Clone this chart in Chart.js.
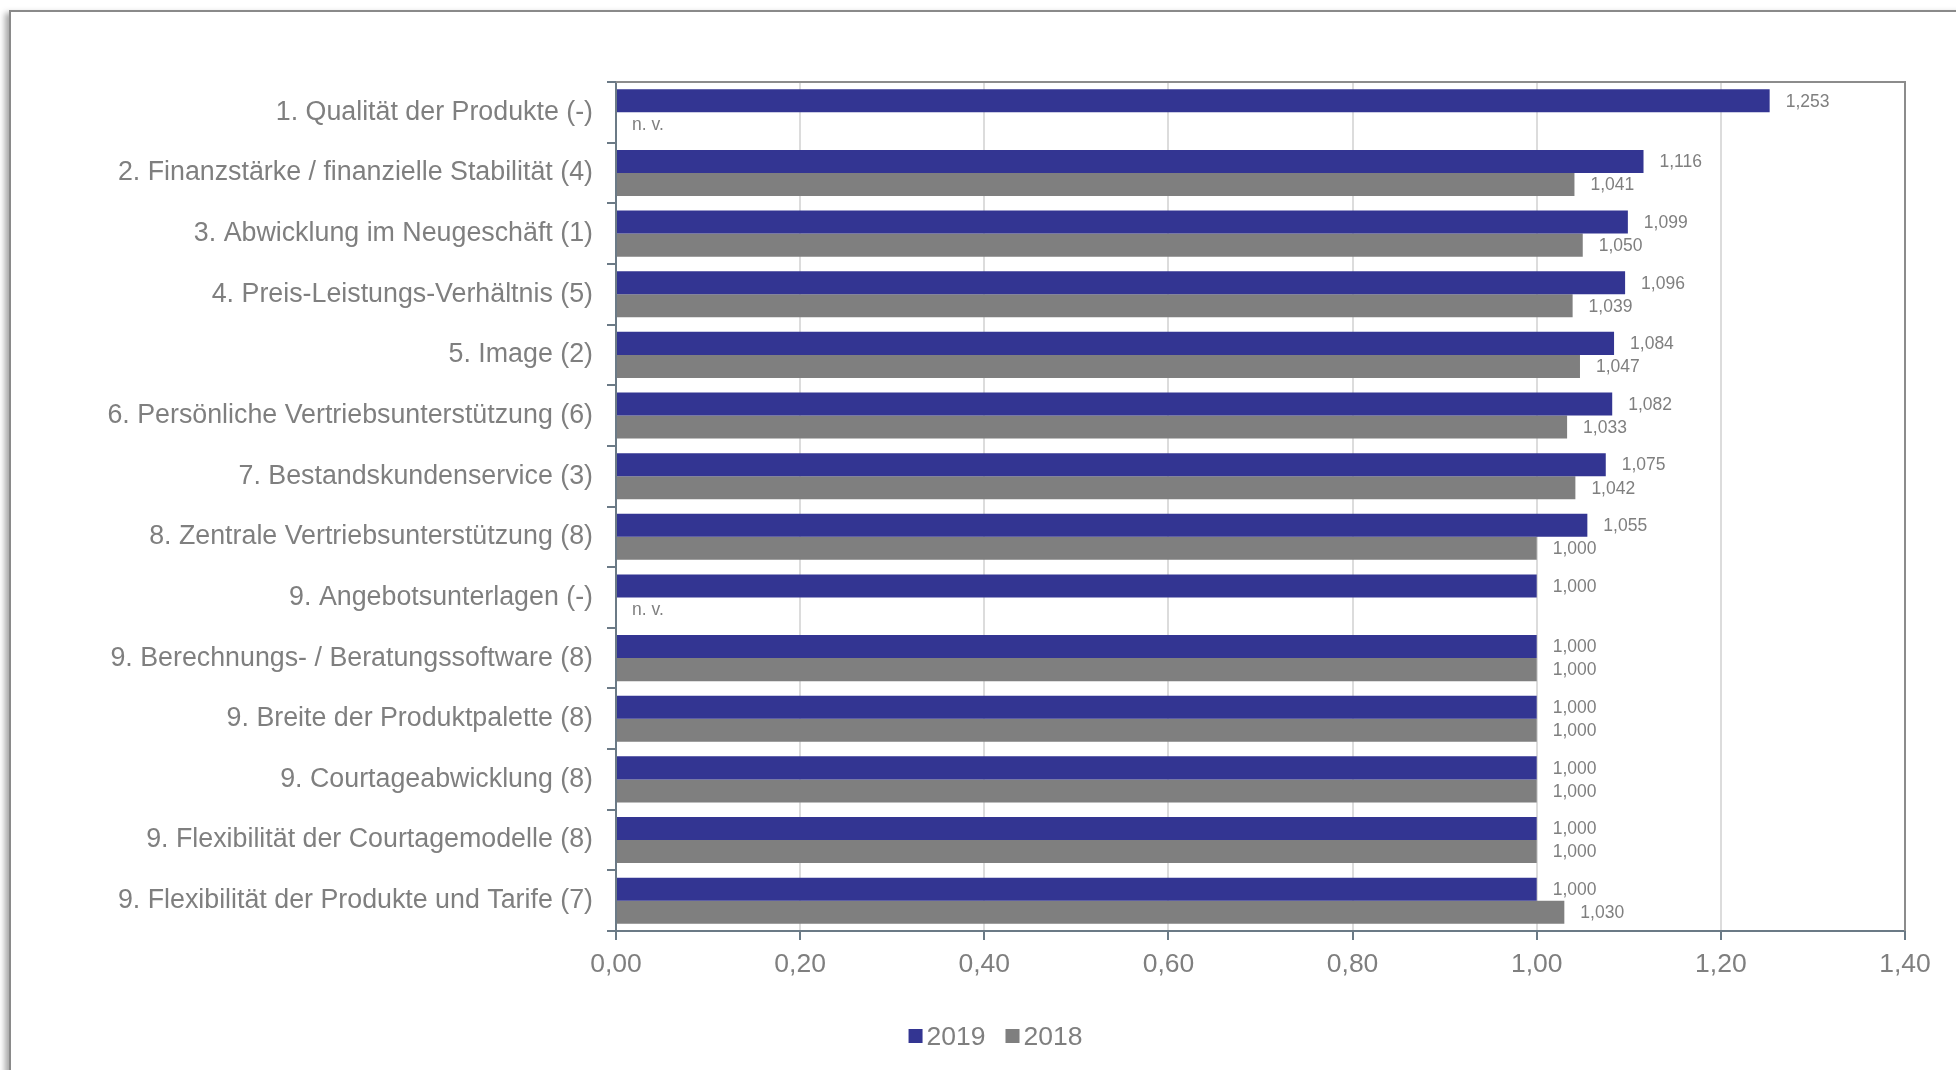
<!DOCTYPE html>
<html>
<head>
<meta charset="utf-8">
<script src="https://cdn.jsdelivr.net/npm/chart.js@4/dist/chart.umd.min.js"></script>
<style>
  html, body { margin: 0; padding: 0; background: #ffffff; }
  #wrap { position: relative; width: 1956px; height: 1070px; overflow: hidden; background: #ffffff; }
  #frame {
    position: absolute; left: 9px; top: 10px; width: 2000px; height: 1100px;
    border: 2px solid #8a8a8a; background: #ffffff;
    box-shadow: -4px 3px 6px rgba(0, 0, 0, 0.35);
  }
  #chart { position: absolute; left: 0; top: 0; }
</style>
</head>
<body>
<div id="wrap">
  <div id="frame"></div>
  <canvas id="chart" width="1956" height="1070"></canvas>
</div>
<script>
// Rating categories (rank and previous-year rank in brackets)
const categories = [
  "1. Qualität der Produkte (-)",
  "2. Finanzstärke / finanzielle Stabilität (4)",
  "3. Abwicklung im Neugeschäft (1)",
  "4. Preis-Leistungs-Verhältnis (5)",
  "5. Image (2)",
  "6. Persönliche Vertriebsunterstützung (6)",
  "7. Bestandskundenservice (3)",
  "8. Zentrale Vertriebsunterstützung (8)",
  "9. Angebotsunterlagen (-)",
  "9. Berechnungs- / Beratungssoftware (8)",
  "9. Breite der Produktpalette (8)",
  "9. Courtageabwicklung (8)",
  "9. Flexibilität der Courtagemodelle (8)",
  "9. Flexibilität der Produkte und Tarife (7)"
];

const values2019 = [1.253, 1.116, 1.099, 1.096, 1.084, 1.082, 1.075, 1.055, 1.000, 1.000, 1.000, 1.000, 1.000, 1.000];
// null = not available ("n. v.")
const values2018 = [null, 1.041, 1.050, 1.039, 1.047, 1.033, 1.042, 1.000, null, 1.000, 1.000, 1.000, 1.000, 1.030];

const seriesLabels = ["2019", "2018"];
const axisMin = 0;
const axisMax = 1.4;
const axisStep = 0.2;
const missingText = "n. v.";

const FONT = "'Liberation Sans', Arial, Helvetica, sans-serif";
const TEXT_GRAY = "#7f7f7f";
const AXIS_COLOR = "#6b7a86";

const fmt = (v, d) => v.toFixed(d).replace(".", ",");

// Value labels next to each bar, "n. v." where a value is missing
const valueLabels = {
  id: "valueLabels",
  afterDatasetsDraw(chart) {
    const ctx = chart.ctx;
    const area = chart.chartArea;
    ctx.save();
    ctx.font = "17.5px " + FONT;
    ctx.fillStyle = TEXT_GRAY;
    ctx.textBaseline = "middle";
    ctx.textAlign = "left";
    chart.data.datasets.forEach((ds, di) => {
      const meta = chart.getDatasetMeta(di);
      meta.data.forEach((bar, i) => {
        const v = ds.data[i];
        const y = bar.y + 1;
        if (v === null || v === undefined) {
          ctx.fillText(missingText, area.left + 16, y);
        } else {
          ctx.fillText(fmt(v, 3), bar.x + 16, y);
        }
      });
    });
    ctx.restore();
  }
};

// Top and right edges of the plot area
const plotFrame = {
  id: "plotFrame",
  beforeDatasetsDraw(chart) {
    const { ctx, chartArea: a } = chart;
    ctx.save();
    ctx.strokeStyle = "#8c8c8c";
    ctx.lineWidth = 2;
    ctx.beginPath();
    ctx.moveTo(a.left, a.top);
    ctx.lineTo(a.right, a.top);
    ctx.lineTo(a.right, a.bottom);
    ctx.stroke();
    ctx.restore();
  }
};

// Compact legend below the axis
const bottomLegend = {
  id: "bottomLegend",
  afterDraw(chart) {
    const ctx = chart.ctx;
    const box = 14, gap = 4, spacing = 20;
    ctx.save();
    ctx.font = "26.5px " + FONT;
    ctx.textBaseline = "middle";
    ctx.textAlign = "left";
    const items = chart.data.datasets.map(ds => ({
      text: ds.label, color: ds.backgroundColor, w: ctx.measureText(ds.label).width
    }));
    let total = 0;
    items.forEach((it, i) => { total += box + gap + it.w + (i ? spacing : 0); });
    let x = 995.5 - total / 2;
    const cy = 1037;
    items.forEach((it, i) => {
      if (i) x += spacing;
      ctx.fillStyle = it.color;
      ctx.fillRect(x, cy - box / 2 - 1, box, box);
      x += box + gap;
      ctx.fillStyle = TEXT_GRAY;
      ctx.fillText(it.text, x, cy + 1);
      x += it.w;
    });
    ctx.restore();
  }
};

new Chart(document.getElementById("chart"), {
  type: "bar",
  data: {
    labels: categories,
    datasets: [
      { label: seriesLabels[0], data: values2019, backgroundColor: "#333592", borderWidth: 0 },
      { label: seriesLabels[1], data: values2018, backgroundColor: "#7f7f7f", borderWidth: 0 }
    ]
  },
  options: {
    indexAxis: "y",
    responsive: false,
    animation: false,
    devicePixelRatio: 1,
    layout: { padding: { top: 82, right: 51, bottom: 0, left: 0 } },
    datasets: { bar: { categoryPercentage: 0.76, barPercentage: 1.0 } },
    plugins: {
      legend: { display: false },
      tooltip: { enabled: false }
    },
    scales: {
      x: {
        min: axisMin,
        max: axisMax,
        ticks: {
          stepSize: axisStep,
          padding: 9,
          color: TEXT_GRAY,
          font: { family: FONT, size: 26.5 },
          callback: v => fmt(v, 2)
        },
        grid: { color: "#dcdcdc", lineWidth: 2, tickColor: AXIS_COLOR, tickLength: 9 },
        border: { color: AXIS_COLOR, width: 2 },
        afterFit(scale) { scale.height = 139; }
      },
      y: {
        ticks: {
          padding: 14,
          color: TEXT_GRAY,
          font: { family: FONT, size: 26.8 }
        },
        grid: { drawOnChartArea: false, color: AXIS_COLOR, tickLength: 9, lineWidth: 2 },
        border: { color: AXIS_COLOR, width: 2 },
        afterFit(scale) { scale.width = 616; }
      }
    }
  },
  plugins: [plotFrame, valueLabels, bottomLegend]
});
</script>
</body>
</html>
